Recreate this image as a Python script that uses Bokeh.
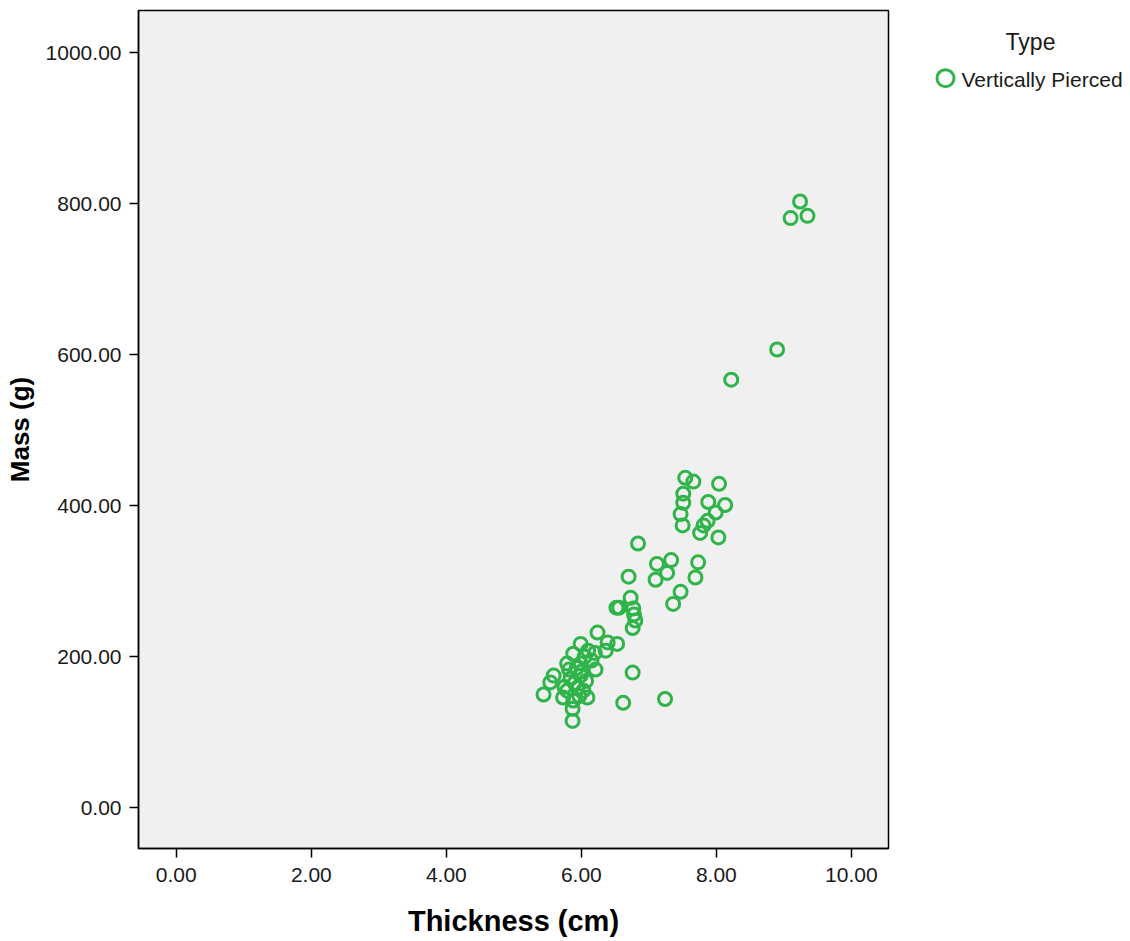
from bokeh.plotting import figure
from bokeh.layouts import row
from bokeh.models import FixedTicker, NumeralTickFormatter, Range1d, ColumnDataSource
from bokeh.core.properties import value
from bokeh.embed import file_html
from bokeh.resources import INLINE

# Data (Thickness in cm, Mass in g)
thickness = [
    9.24, 9.10, 9.35, 8.90, 8.22,
    7.54, 7.66, 8.04, 7.51, 7.51, 7.88, 8.13, 7.47, 7.99, 7.50, 7.87, 7.81, 7.76, 8.03,
    6.84, 7.12, 7.33, 7.27, 7.10, 6.70, 7.73, 7.69, 7.47, 7.36, 6.73, 6.52, 6.56, 6.77,
    6.78, 6.80, 6.76,
    6.53, 6.24, 6.39, 6.36, 5.99, 5.88, 6.10, 5.79, 5.99, 6.21, 5.59, 5.54, 5.44, 5.84,
    5.94, 6.03, 5.73, 6.09, 5.88, 5.87, 5.87, 6.76, 6.62, 7.24, 5.79, 5.99, 6.05, 5.93,
    6.15, 5.90, 6.00, 5.82, 6.07, 5.97, 5.75, 6.20,
]
mass = [
    803, 781, 784, 607, 567,
    437, 432, 429, 416, 404, 405, 401, 389, 391, 374, 380, 374, 364, 358,
    350, 323, 328, 311, 302, 306, 325, 305, 286, 270, 278, 265, 265, 264,
    256, 248, 238,
    217, 232, 219, 208, 217, 204, 208, 191, 191, 183, 175, 166, 150, 171,
    159, 155, 146, 146, 142, 131, 115, 179, 139, 144, 155, 175, 200, 185,
    195, 165, 180, 183, 168, 148, 160, 205,
]
series_name = "Vertically Pierced"
legend_title = "Type"
x_ticks = [0, 2, 4, 6, 8, 10]
y_ticks = [0, 200, 400, 600, 800, 1000]

GREEN = "#2fb44a"
FONT = "Liberation Sans"
TEXT = "#1a1a1a"

p = figure(width=890, height=941, output_backend="svg", toolbar_location=None,
           x_range=Range1d(-0.56, 10.55), y_range=Range1d(-54, 1056),
           min_border_left=138, min_border_right=2, min_border_top=10,
           min_border_bottom=93)
p.background_fill_color = "#f0f0f0"
p.border_fill_color = "white"
p.outline_line_color = "black"
p.outline_line_width = 1.5
p.grid.visible = False

src = ColumnDataSource(dict(x=thickness, y=mass))
p.scatter("x", "y", source=src, marker="circle", size=13, fill_color=None,
          line_color=GREEN, line_width=3)

for ax in (p.xaxis, p.yaxis):
    ax.axis_line_color = "black"
    ax.axis_line_width = 1.5
    ax.major_tick_line_color = "black"
    ax.major_tick_line_width = 1.5
    ax.major_tick_out = 9
    ax.major_tick_in = 0
    ax.minor_tick_line_color = None
    ax.major_label_text_font = FONT
    ax.major_label_text_font_size = "21px"
    ax.major_label_text_color = TEXT
    ax.axis_label_text_font = FONT
    ax.axis_label_text_font_style = "bold"
    ax.axis_label_text_color = "black"
    ax.formatter = NumeralTickFormatter(format="0.00")

p.xaxis.axis_label_text_font_size = "29px"
p.yaxis.axis_label_text_font_size = "26px"
p.xaxis.ticker = FixedTicker(ticks=x_ticks)
p.yaxis.ticker = FixedTicker(ticks=y_ticks)
p.xaxis.axis_label = "Thickness (cm)"
p.yaxis.axis_label = "Mass (g)"
p.xaxis.major_label_standoff = 10
p.yaxis.major_label_standoff = 8
p.xaxis.axis_label_standoff = 20
p.yaxis.axis_label_standoff = 8

# Legend panel drawn as a second, axis-less figure (pixel coordinates, y downward)
lg = figure(width=240, height=941, output_backend="svg", toolbar_location=None,
            x_range=Range1d(0, 240), y_range=Range1d(941, 0),
            x_axis_type=None, y_axis_type=None, min_border=0)
lg.outline_line_color = None
lg.grid.visible = False
lg.background_fill_color = "white"
lg.border_fill_color = "white"

lg.scatter(x=[55], y=[76], marker="circle", size=17, fill_color=None,
           line_color=GREEN, line_width=3)
lg.text(x=[71], y=[78], text=[series_name], text_font=value(FONT),
        text_font_size="21px", text_baseline="middle", text_align="left",
        text_color=TEXT)
lg.text(x=[140], y=[35], text=[legend_title], text_font=value(FONT),
        text_font_size="23px", text_baseline="middle", text_align="center",
        text_color=TEXT)

layout = row(p, lg, spacing=0)
open("out.html", "w").write(file_html(layout, INLINE))
